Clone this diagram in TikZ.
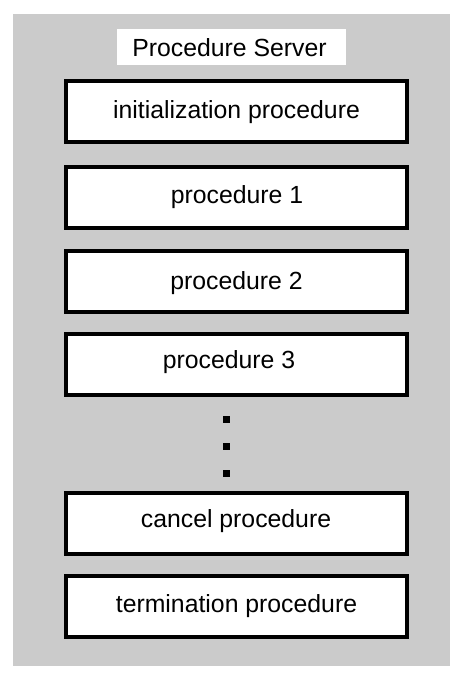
\documentclass[tikz,border=0pt]{standalone}
\usepackage{fontspec}
\setmainfont{Liberation Sans}
\definecolor{panelgrey}{HTML}{CBCBCB}
\begin{document}
\begin{tikzpicture}[x=1pt,y=-1pt,
  procbox/.style={draw=black,fill=white,line width=4pt,minimum width=341pt,minimum height=61pt,inner sep=0pt},
  proctext/.style={anchor=base,font=\fontsize{24.8}{28}\selectfont,inner sep=0pt},
  dotsq/.style={fill=black,minimum size=7pt,inner sep=0pt}]
\useasboundingbox (0,0) rectangle (465,675);
\fill[panelgrey] (13,14) rectangle (450,666);
\node[fill=white,minimum width=229pt,minimum height=36pt,inner sep=0pt] (titlebox) at (231.5,47) {};
\node[proctext] (title) at (229.5,56) {Procedure Server};
\node[procbox] (b1) at (236.5,111.5) {};
\node[procbox] (b2) at (236.5,197) {};
\node[procbox] (b3) at (236.5,281) {};
\node[procbox] (b4) at (236.5,364.5) {};
\node[procbox] (b5) at (236.5,523) {};
\node[procbox] (b6) at (236.5,606.5) {};
\node[proctext] (t1) at (236.5,118.5) {initialization procedure};
\node[proctext] (t2) at (237,203.5) {procedure 1};
\node[proctext] (t3) at (236.5,289) {procedure 2};
\node[proctext] (t4) at (229,368) {procedure 3};
\node[proctext] (t5) at (236,527.5) {cancel procedure};
\node[proctext] (t6) at (236.5,612.5) {termination procedure};
\node[dotsq] (d1) at (226,419.5) {};
\node[dotsq] (d2) at (226,446) {};
\node[dotsq] (d3) at (226,473) {};
\end{tikzpicture}
\end{document}
